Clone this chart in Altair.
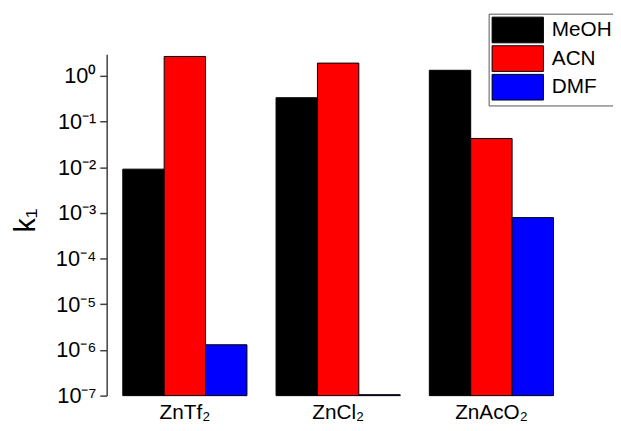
import altair as alt
import pandas as pd

salts = ["ZnTf₂", "ZnCl₂", "ZnAcO₂"]
solvents = ["MeOH", "ACN", "DMF"]
meoh = [0.0091, 0.334, 1.33]
acn = [2.67, 1.91, 0.0427]
dmf = [1.3e-6, 1.05e-7, 7.9e-4]
colors = ["#000000", "#ff0000", "#0000ff"]
y_ticks = [1e-7, 1e-6, 1e-5, 1e-4, 1e-3, 1e-2, 1e-1, 1]
y_tick_labels = ["10⁻⁷", "10⁻⁶", "10⁻⁵", "10⁻⁴", "10⁻³", "10⁻²", "10⁻¹", "10⁰"]
y_domain = [1e-7, 3]

rows = []
for i, s in enumerate(salts):
    for solv, vals in zip(solvents, [meoh, acn, dmf]):
        rows.append({"salt": s, "solvent": solv, "k1": vals[i]})
df = pd.DataFrame(rows)

label_expr = "[" + ",".join(f"'{t}'" for t in y_tick_labels) + "][round(log(datum.value)/LN10)+7]"
FONT = "Liberation Sans"

chart = alt.Chart(df).mark_bar(stroke="#000000", strokeWidth=1).encode(
    x=alt.X("salt:N", sort=salts,
            scale=alt.Scale(paddingInner=0.19, paddingOuter=0.105),
            axis=alt.Axis(title=None, labelAngle=0, domain=False, ticks=False,
                          labelFontSize=21, labelPadding=6, labelColor="black",
                          labelFont=FONT)),
    xOffset=alt.XOffset("solvent:N", sort=solvents,
                        scale=alt.Scale(paddingInner=0, paddingOuter=0)),
    y=alt.Y("k1:Q",
            scale=alt.Scale(type="log", domain=y_domain, nice=False, clamp=True),
            axis=alt.Axis(values=y_ticks, labelExpr=label_expr, title="k₁",
                          grid=False, labelFontSize=22, labelFont=FONT,
                          labelColor="black", labelPadding=4, tickSize=7,
                          tickWidth=1.5, domainWidth=1.5,
                          tickColor="#404040", domainColor="#404040",
                          titleFontSize=29, titleFont=FONT, titleFontWeight="normal",
                          titleColor="black", titleX=-82, titleY=168,
                          titleAngle=270, titleAlign="center", titleBaseline="middle")),
    color=alt.Color("solvent:N", sort=solvents,
                    scale=alt.Scale(domain=solvents, range=colors),
                    legend=alt.Legend(title=None, orient="none", legendX=387, legendY=-41,
                                      symbolType="M-1,-1H3V1H-1Z", symbolSize=676,
                                      symbolStrokeColor="#000000", symbolStrokeWidth=1,
                                      symbolOpacity=1,
                                      labelFontSize=21, labelFont=FONT, labelColor="black",
                                      labelOffset=34, rowPadding=-3, padding=3,
                                      strokeColor="#555555", fillColor="white",
                                      labelLimit=300)),
).properties(
    width=469, height=346,
    autosize=alt.AutoSizeParams(type="none"),
    padding={"left": 100, "top": 44, "right": 44, "bottom": 27},
    background="white",
).configure_view(stroke=None)

chart.save("out.html", embed_options={"renderer": "svg", "actions": False})
